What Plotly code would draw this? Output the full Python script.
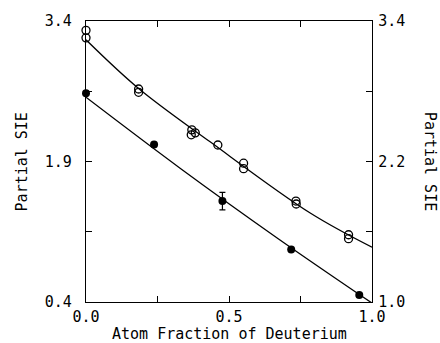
import plotly.graph_objects as go

# Open circles (left axis)
open_x = [0.0, 0.0, 0.184, 0.184, 0.370, 0.382, 0.368, 0.461, 0.551, 0.551, 0.734, 0.735, 0.918, 0.918]
open_y = [3.30, 3.22, 2.674, 2.639, 2.238, 2.206, 2.185, 2.076, 1.882, 1.823, 1.478, 1.446, 1.118, 1.076]

# Filled circles (right axis)
filled_x = [0.0, 0.238, 0.477, 0.7175, 0.9555]
filled_y = [2.783, 2.346, 1.862, 1.448, 1.059]
filled_err = [None, None, 0.075, None, None]

# Fitted curves
fit_open_x = [0.0, 0.184, 0.434, 0.784, 1.0]
fit_open_y = [3.20, 2.68, 2.11, 1.35, 0.985]
fit_filled_x = [0.0, 0.329, 0.672, 1.0]
fit_filled_y = [2.749, 2.143, 1.541, 0.991]

x_ticks = [0.0, 0.25, 0.5, 0.75, 1.0]
x_ticktext = ["0.0", "", "0.5", "", "1.0"]
yl_ticks = [0.4, 1.15, 1.9, 2.65, 3.4]
yl_ticktext = ["0.4", "", "1.9", "", "3.4"]
yr_ticks = [1.0, 1.6, 2.2, 2.8, 3.4]
yr_ticktext = ["1.0", "", "2.2", "", "3.4"]

FONT = "DejaVu Sans Mono"

fig = go.Figure()
fig.add_trace(go.Scatter(x=fit_open_x, y=fit_open_y, mode="lines",
                         line=dict(color="black", width=1.3, shape="spline", smoothing=1.0),
                         yaxis="y", showlegend=False, hoverinfo="skip"))
fig.add_trace(go.Scatter(x=fit_filled_x, y=fit_filled_y, mode="lines",
                         line=dict(color="black", width=1.3, shape="spline", smoothing=1.0),
                         yaxis="y2", showlegend=False, hoverinfo="skip"))
fig.add_trace(go.Scatter(x=open_x, y=open_y, mode="markers",
                         marker=dict(symbol="circle-open", size=8, color="black", line=dict(width=1.3)),
                         yaxis="y", showlegend=False, cliponaxis=False))
fig.add_trace(go.Scatter(x=filled_x, y=filled_y, mode="markers",
                         marker=dict(symbol="circle", size=8, color="black"),
                         error_y=dict(type="data", array=filled_err, color="black", thickness=1.2, width=3),
                         yaxis="y2", showlegend=False, cliponaxis=False))

axis_common = dict(showline=True, linecolor="black", linewidth=1.3, ticks="inside",
                   ticklen=6, tickwidth=1.2, tickcolor="black", showgrid=False, zeroline=False,
                   tickfont=dict(family=FONT, size=15, color="black"))

fig.update_layout(
    width=440, height=343,
    margin=dict(l=86, r=68, t=18, b=41),
    paper_bgcolor="white", plot_bgcolor="white",
    xaxis=dict(range=[0, 1], tickvals=x_ticks, ticktext=x_ticktext, mirror="ticks",
               ticklabelstandoff=1, **axis_common),
    yaxis=dict(range=[0.4, 3.4], tickvals=yl_ticks, ticktext=yl_ticktext, side="left",
               ticklabelstandoff=10, **axis_common),
    yaxis2=dict(range=[1.0, 3.4], tickvals=yr_ticks, ticktext=yr_ticktext, side="right",
                overlaying="y", ticklabelstandoff=2, **axis_common),
    annotations=[
        dict(text="Atom Fraction of Deuterium", x=0.5, y=-0.115, xref="paper", yref="paper",
             xanchor="center", yanchor="middle", showarrow=False,
             font=dict(family=FONT, size=15, color="black")),
        dict(text="Partial SIE", x=-0.224, y=0.5, xref="paper", yref="paper", textangle=-90,
             xanchor="center", yanchor="middle", showarrow=False,
             font=dict(family=FONT, size=15, color="black")),
        dict(text="Partial SIE", x=1.205, y=0.5, xref="paper", yref="paper", textangle=90,
             xanchor="center", yanchor="middle", showarrow=False,
             font=dict(family=FONT, size=15, color="black")),
    ],
)

fig.write_html("out.html")
